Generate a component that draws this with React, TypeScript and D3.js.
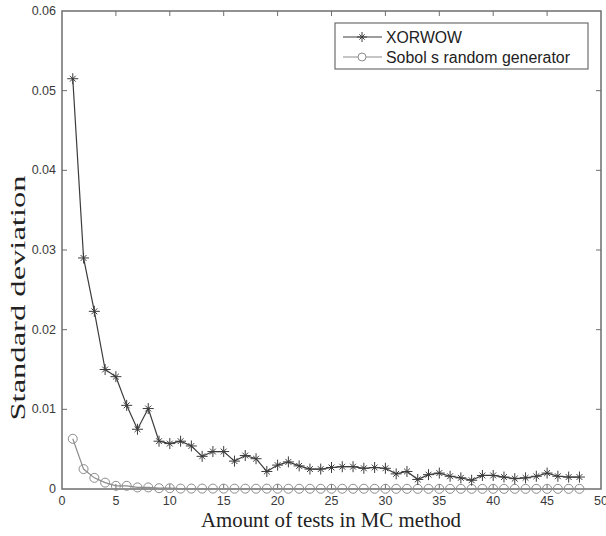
import React, { useEffect, useRef } from "react";
import * as d3 from "d3";

const tests = d3.range(1, 49);
const xorwow = [
  0.0515, 0.029, 0.0223, 0.015, 0.0141, 0.0105, 0.0075, 0.0101, 0.006, 0.0057,
  0.006, 0.0054, 0.0041, 0.0047, 0.0047, 0.0035, 0.0042, 0.0038, 0.0022, 0.003,
  0.0034, 0.0029, 0.0025, 0.0025, 0.0027, 0.0028, 0.0028, 0.0026, 0.0027, 0.0026,
  0.0019, 0.0022, 0.0012, 0.0018, 0.002, 0.0016, 0.0014, 0.0011, 0.0017, 0.0017,
  0.0015, 0.0013, 0.0014, 0.0016, 0.002, 0.0016, 0.0015, 0.0015,
];
const sobol = [
  0.0063, 0.0025, 0.0014, 0.0008, 0.0004, 0.0004, 0.0002, 0.0002, 0.0001, 0.0001,
  0.00005, 0.00005, 0.00005, 0.00005, 0.00005, 0.00004, 0.00004, 0.00004, 0.00004, 0.00004,
  0.00003, 0.00003, 0.00003, 0.00003, 0.00003, 0.00003, 0.00003, 0.00003, 0.00003, 0.00003,
  0.00002, 0.00002, 0.00002, 0.00002, 0.00002, 0.00002, 0.00002, 0.00002, 0.00002, 0.00002,
  0.00002, 0.00002, 0.00002, 0.00002, 0.00002, 0.00002, 0.00002, 0.00002,
];
const xTicks = [0, 5, 10, 15, 20, 25, 30, 35, 40, 45, 50];
const yTicks = [0, 0.01, 0.02, 0.03, 0.04, 0.05, 0.06];
const seriesNames = ["XORWOW", "Sobol s random generator"];

export default function App() {
  const ref = useRef<SVGSVGElement>(null);

  useEffect(() => {
    const svg = d3.select(ref.current);
    svg.selectAll("*").remove();
    const left = 62, right = 601, top = 11, bottom = 489;
    const x = d3.scaleLinear().domain([0, 50]).range([left, right]);
    const y = d3.scaleLinear().domain([0, 0.06]).range([bottom, top]);
    const axisColor = "#6e6e6e";
    const font = "Arial, 'Liberation Sans', sans-serif";
    const serif = "'Liberation Serif', 'Times New Roman', serif";

    // frame
    svg.append("rect")
      .attr("x", left).attr("y", top)
      .attr("width", right - left).attr("height", bottom - top)
      .attr("fill", "none").attr("stroke", axisColor).attr("stroke-width", 1.5);

    // inward ticks, all four sides
    const tl = 5;
    const g = svg.append("g").attr("stroke", axisColor).attr("stroke-width", 1);
    xTicks.slice(1, -1).forEach(t => {
      g.append("line").attr("x1", x(t)).attr("x2", x(t)).attr("y1", bottom).attr("y2", bottom - tl);
      g.append("line").attr("x1", x(t)).attr("x2", x(t)).attr("y1", top).attr("y2", top + tl);
    });
    yTicks.slice(1, -1).forEach(t => {
      g.append("line").attr("x1", left).attr("x2", left + tl).attr("y1", y(t)).attr("y2", y(t));
      g.append("line").attr("x1", right).attr("x2", right - tl).attr("y1", y(t)).attr("y2", y(t));
    });

    svg.append("g").selectAll("text").data(xTicks).join("text")
      .attr("x", d => x(d)).attr("y", bottom + 16)
      .attr("text-anchor", "middle")
      .attr("font-family", font).attr("font-size", 12.5).attr("fill", "#3a3a3a")
      .text(d => String(d));
    svg.append("g").selectAll("text").data(yTicks).join("text")
      .attr("x", left - 6).attr("y", d => y(d) + 4)
      .attr("text-anchor", "end")
      .attr("font-family", font).attr("font-size", 12.5).attr("fill", "#3a3a3a")
      .text(d => (d === 0 ? "0" : d.toFixed(2)));

    // axis titles
    svg.append("text")
      .attr("x", 331).attr("y", 527)
      .attr("text-anchor", "middle")
      .attr("font-family", serif).attr("font-size", 20).attr("fill", "#222")
      .attr("textLength", 260).attr("lengthAdjust", "spacingAndGlyphs")
      .text("Amount of tests in MC method");
    svg.append("text")
      .attr("transform", `translate(25,298) rotate(-90)`)
      .attr("text-anchor", "middle")
      .attr("font-family", serif).attr("font-size", 21).attr("fill", "#222")
      .attr("textLength", 245).attr("lengthAdjust", "spacingAndGlyphs")
      .text("Standard deviation");

    const line = d3.line<number>().x((_, i) => x(tests[i])).y(d => y(d));

    const star = (sel: any, cx: number, cy: number, r: number, color: string) => {
      const p = sel.append("g").attr("stroke", color).attr("stroke-width", 1);
      [0, 45, 90, 135].forEach(a => {
        const rad = (a * Math.PI) / 180;
        const k = a % 90 === 0 ? r : r * 0.75;
        p.append("line")
          .attr("x1", cx - k * Math.sin(rad)).attr("y1", cy - k * Math.cos(rad))
          .attr("x2", cx + k * Math.sin(rad)).attr("y2", cy + k * Math.cos(rad));
      });
    };

    const xorColor = "#3c3c3c";
    const sobColor = "#8c8c8c";

    // Sobol series
    svg.append("path").attr("d", line(sobol)).attr("fill", "none")
      .attr("stroke", sobColor).attr("stroke-width", 1.2);
    svg.append("g").selectAll("circle").data(sobol).join("circle")
      .attr("cx", (_, i) => x(tests[i])).attr("cy", d => y(d)).attr("r", 4.5)
      .attr("fill", "none").attr("stroke", sobColor).attr("stroke-width", 1);

    // XORWOW series
    svg.append("path").attr("d", line(xorwow)).attr("fill", "none")
      .attr("stroke", xorColor).attr("stroke-width", 1.2);
    const sg = svg.append("g");
    xorwow.forEach((d, i) => star(sg, x(tests[i]), y(d), 5.5, xorColor));

    // legend
    const lx = 335, ly = 23, lw = 253, lh = 46;
    svg.append("rect").attr("x", lx).attr("y", ly).attr("width", lw).attr("height", lh)
      .attr("fill", "white").attr("stroke", axisColor).attr("stroke-width", 1.2);
    const rows = [
      { name: seriesNames[0], color: xorColor, kind: "star" },
      { name: seriesNames[1], color: sobColor, kind: "circle" },
    ];
    rows.forEach((r, i) => {
      const cy = ly + 14 + i * 20;
      svg.append("line").attr("x1", lx + 8).attr("x2", lx + 47).attr("y1", cy).attr("y2", cy)
        .attr("stroke", r.color).attr("stroke-width", 1.2);
      if (r.kind === "star") star(svg, lx + 27, cy, 5, r.color);
      else svg.append("circle").attr("cx", lx + 27).attr("cy", cy).attr("r", 4)
        .attr("fill", "white").attr("stroke", r.color);
      svg.append("text").attr("x", lx + 51).attr("y", cy + 5.5)
        .attr("font-family", font).attr("font-size", 16).attr("fill", "#222")
        .attr("textLength", r.kind === "star" ? 76 : 184).attr("lengthAdjust", "spacingAndGlyphs")
        .text(r.name);
    });
  }, []);

  return (
    <svg ref={ref} width={606} height={536}
      style={{ position: "absolute", left: 0, top: 0, background: "white" }} />
  );
}
